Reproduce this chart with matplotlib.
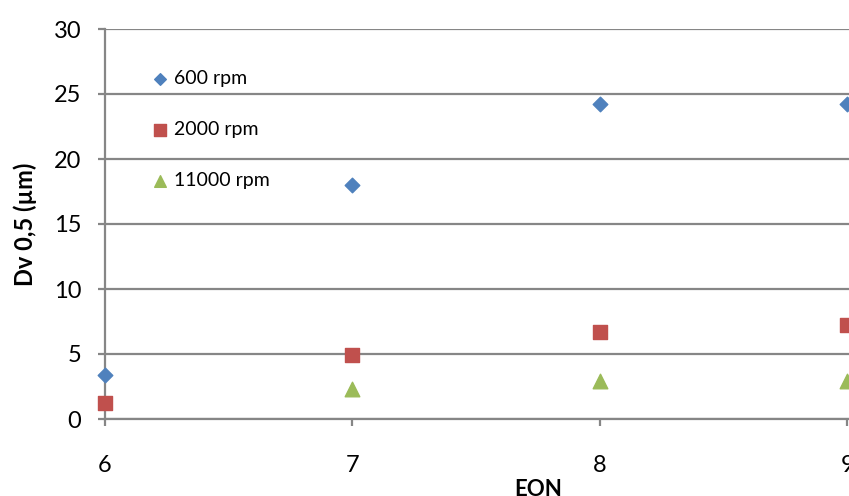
import matplotlib.pyplot as plt
import numpy as np

plt.rcParams['font.family'] = ['Lato', 'DejaVu Sans']

eon = [6, 7, 8, 9]
rpm600 = [3.4, 18.0, 24.2, 24.2]
rpm2000 = [1.2, 4.95, 6.7, 7.2]
rpm11000 = [np.nan, 2.3, 2.9, 2.9]

fig = plt.figure(figsize=(8.49, 4.96), dpi=100)
# axes run past the right edge, as in the cropped original
ax = fig.add_axes([105/849, 77/496, 866/849, 390/496])

grid_c = '#868686'
ax.scatter(eon, rpm600, marker='D', s=55, color='#4F81BD', label='600 rpm', zorder=3, clip_on=False)
ax.scatter(eon, rpm2000, marker='s', s=110, color='#C0504D', label='2000 rpm', zorder=3, clip_on=False)
ax.scatter(eon, rpm11000, marker='^', s=110, color='#9BBB59', label='11000 rpm', zorder=3, clip_on=False)

ax.set_xlim(6, 9.5)
ax.set_ylim(0, 30)
ax.set_xticks([6, 7, 8, 9])
ax.set_yticks(range(0, 31, 5))
ax.yaxis.grid(True, color=grid_c, linewidth=1.6)
ax.set_axisbelow(True)
for s in ['top', 'right']:
    ax.spines[s].set_visible(False)
for s in ['left', 'bottom']:
    ax.spines[s].set_color(grid_c)
    ax.spines[s].set_linewidth(1.6)
ax.tick_params(axis='both', colors=grid_c, labelcolor='black', labelsize=17, length=5, width=1.6)
ax.tick_params(axis='x', pad=21)
ax.tick_params(axis='y', pad=12)

ax.set_xlabel('EON', fontsize=16, fontweight='bold', labelpad=2)
ax.set_ylabel('Dv 0,5 (µm)', fontsize=17, fontweight='bold', labelpad=12)

ax.legend(loc='upper left', bbox_to_anchor=(0.03, 0.94), frameon=False, fontsize=14,
          labelspacing=1.75, handletextpad=0.1, handlelength=1.2, scatterpoints=1, markerscale=0.8)

fig.savefig('out.png', dpi=100)
